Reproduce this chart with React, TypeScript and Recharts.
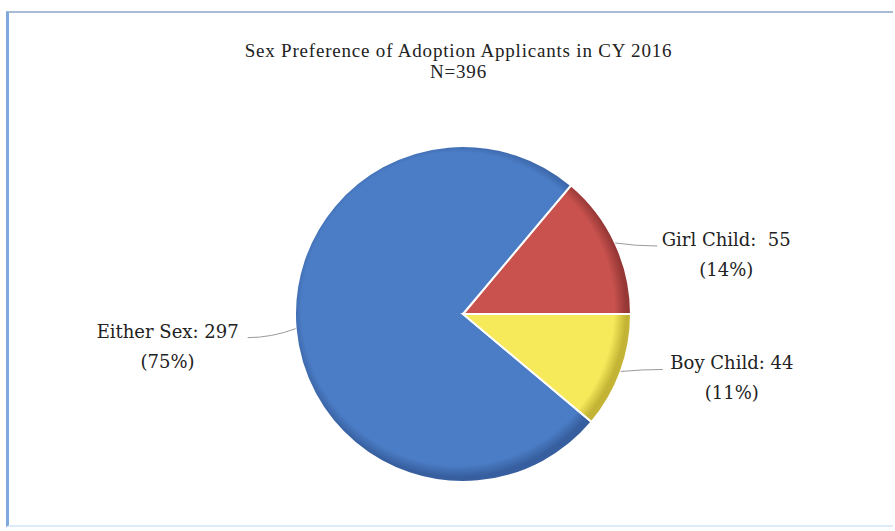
import { PieChart, Pie, Cell } from 'recharts'

const categories = ['Girl Child', 'Either Sex', 'Boy Child']
const counts = [55, 297, 44]
const percentLabels = ['14%', '75%', '11%']
const titleLines = ['Sex Preference of Adoption Applicants in CY 2016', 'N=396']

const colors = ['#c9524e', '#4b7dc6', '#f6e95a']
const edgeColors = ['#963836', '#375f9f', '#c4b435']

const data = categories.map((name, i) => ({
  name,
  value: counts[i],
  pct: percentLabels[i],
}))

const CX = 458
const CY = 309
const R = 168

export default function App() {
  const RAD = Math.PI / 180

  const renderLabel = (props: any) => {
    const { cx, cy, midAngle, outerRadius, index } = props
    const cos = Math.cos(-midAngle * RAD)
    const sin = Math.sin(-midAngle * RAD)
    const sx = cx + outerRadius * cos
    const sy = cy + outerRadius * sin
    const right = cos >= 0
    const ex = sx + (right ? 42 : -48)
    const ey = sy + (right ? (sin < 0 ? 3 : -2) : 9)
    const mx = (sx + ex) / 2
    const tx = right ? ex + 69 : ex - 80
    const d = data[index]
    const sep = d.name === 'Girl Child' ? ':  ' : ': '
    return (
      <g>
        <path
          d={`M${sx},${sy} Q${mx},${ey} ${ex},${ey}`}
          stroke="#9a9a9a"
          strokeWidth={1}
          fill="none"
        />
        <text
          x={tx}
          y={ey}
          textAnchor="middle"
          fill="#222"
          style={{ fontFamily: '"DejaVu Serif", serif', fontSize: 18, whiteSpace: 'pre' }}
        >
          <tspan x={tx} dy={0}>{`${d.name}${sep}${d.value}`}</tspan>
          <tspan x={tx} dy={30}>{`(${d.pct})`}</tspan>
        </text>
      </g>
    )
  }

  return (
    <div style={{ position: 'absolute', left: 0, top: 0, width: 895, height: 531, background: '#fff' }}>
      <div
        style={{
          position: 'absolute',
          left: 6,
          top: 11,
          width: 884,
          height: 512,
          borderLeft: '3px solid #7fa8dc',
          borderTop: '2px solid #a7bcd4',
          borderBottom: '2px solid #dcebf8',
        }}
      />
      <div
        style={{
          position: 'absolute',
          left: 0,
          top: 40,
          width: 917,
          textAlign: 'center',
          fontFamily: '"Liberation Serif", serif',
          fontSize: 19,
          letterSpacing: 0.8,
          lineHeight: '21px',
          color: '#222',
        }}
      >
        {titleLines.map(t => (
          <div key={t}>{t}</div>
        ))}
      </div>
      <PieChart width={895} height={531} style={{ position: 'absolute', left: 0, top: 0 }}>
        <defs>
          {colors.map((c, i) => (
            <radialGradient key={i} id={`slice${i}`} cx={CX} cy={CY} r={R} gradientUnits="userSpaceOnUse">
              <stop offset="0%" stopColor={c} />
              <stop offset="93%" stopColor={c} />
              <stop offset="100%" stopColor={edgeColors[i]} />
            </radialGradient>
          ))}
        </defs>
        <Pie
          data={data}
          dataKey="value"
          nameKey="name"
          cx={CX}
          cy={CY}
          outerRadius={R}
          startAngle={0}
          endAngle={360}
          stroke="#ffffff"
          strokeWidth={2}
          label={renderLabel}
          labelLine={false}
          isAnimationActive={false}
        >
          {data.map((d, i) => (
            <Cell key={d.name} fill={`url(#slice${i})`} />
          ))}
        </Pie>
      </PieChart>
    </div>
  )
}
